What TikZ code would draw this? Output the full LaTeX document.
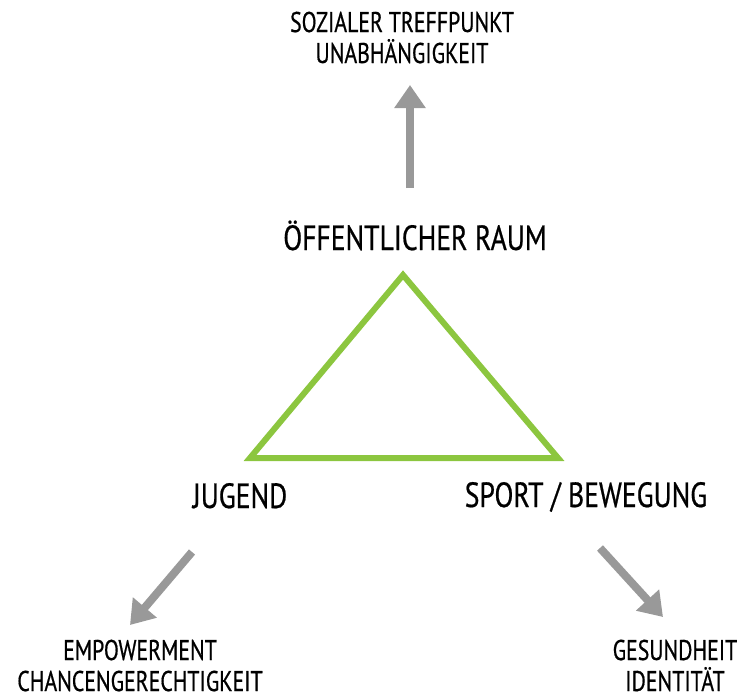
\documentclass[tikz,border=0pt]{standalone}
\usepackage{fontspec}
\setmainfont{PT Sans}
\newfontfamily\kleinfont[FakeStretch=0.765, FakeBold=0.6]{PT Sans}
\newfontfamily\grossfont[FakeStretch=0.79, FakeBold=0.6]{PT Sans}
\usetikzlibrary{arrows.meta}
\definecolor{dreieckgruen}{RGB}{140,198,63}
\definecolor{pfeilgrau}{RGB}{153,153,153}

\begin{document}
\begin{tikzpicture}[x=1pt, y=-1pt,
		klein/.style={inner sep=0pt, align=center, anchor=base, text depth=0pt, font=\kleinfont\fontsize{28.5}{31}\selectfont},
		gross/.style={inner sep=0pt, anchor=base, font=\grossfont\fontsize{35}{40}\selectfont},
		pfeil/.style={draw=pfeilgrau, line width=8pt, -{Triangle[width=30pt, length=23pt, fill=pfeilgrau]}},
		dreieck/.style={draw=dreieckgruen, line width=6pt}]
	\useasboundingbox (0,0) rectangle (737,694);
	% drei Ecken
	\node[gross] (raum) at (415,250) {ÖFFENTLICHER RAUM};
	\node[gross] (jugend) at (240,508) {JUGEND};
	\node[gross] (sport) at (586,507) {SPORT / BEWEGUNG};
	% Wirkungen (Basislinie der zweiten Zeile)
	\node[klein] (treff) at (402,63) {SOZIALER TREFFPUNKT\\UNABHÄNGIGKEIT};
	\node[klein] (empower) at (140,691) {EMPOWERMENT\\CHANCENGERECHTIGKEIT};
	\node[klein] (gesund) at (675,691) {GESUNDHEIT\\IDENTITÄT};
	% Dreieck
	\coordinate (spitze) at (403,275);
	\coordinate (links) at (250,458);
	\coordinate (rechts) at (558,458);
	\draw[dreieck] (spitze) -- (links) -- (rechts) -- cycle;
	% Pfeile
	\coordinate (raum-fuss) at (410,188);
	\coordinate (raum-ziel) at (410,85);
	\coordinate (jugend-fuss) at (192,552);
	\coordinate (jugend-ziel) at (130,625);
	\coordinate (sport-fuss) at (600,548);
	\coordinate (sport-ziel) at (663,617);
	\draw[pfeil] (raum-fuss) -- (raum-ziel);
	\draw[pfeil] (jugend-fuss) -- (jugend-ziel);
	\draw[pfeil] (sport-fuss) -- (sport-ziel);
\end{tikzpicture}
\end{document}
